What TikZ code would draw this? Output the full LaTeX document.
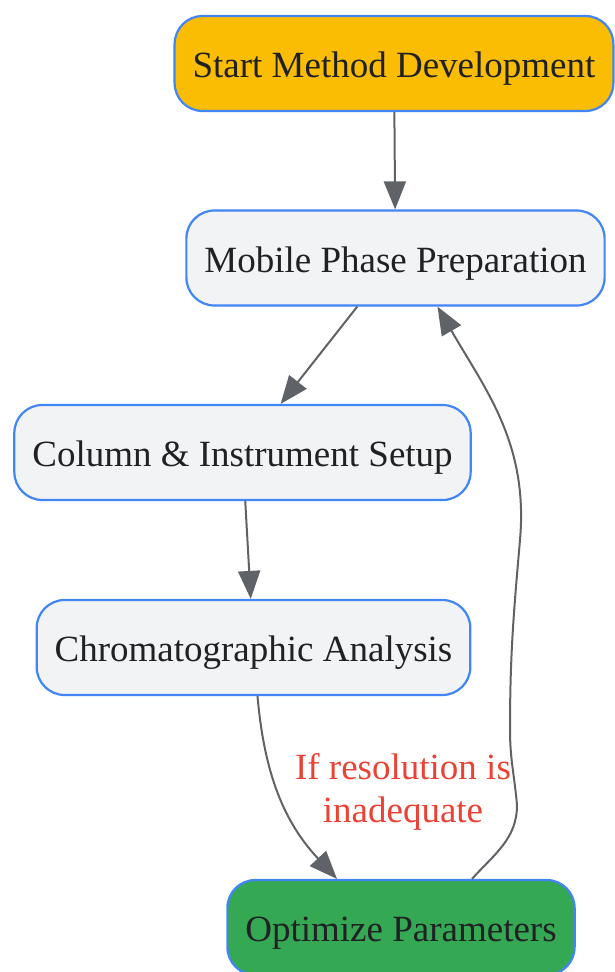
\documentclass[tikz,border=0pt]{standalone}
\usepackage{fontspec}
\setmainfont{Liberation Serif}
\usepackage{xcolor}
\usetikzlibrary{arrows.meta}

\definecolor{boxblue}{HTML}{4285F4}
\definecolor{boxgray}{HTML}{F1F3F4}
\definecolor{boxyellow}{HTML}{FBBC04}
\definecolor{boxgreen}{HTML}{34A853}
\definecolor{linegray}{HTML}{5F6368}
\definecolor{labelred}{HTML}{EA4335}
\definecolor{textdark}{HTML}{202124}

\begin{document}
\begin{tikzpicture}[x=1pt,y=-1pt]
    \tikzset{stepbox/.style={draw=boxblue,line width=2.2pt,fill=boxgray,rounded corners=28pt,
        minimum height=95pt,inner xsep=18pt,text height=28pt,text depth=0pt,text=textdark,
        font=\fontsize{37}{43}\selectfont},
        flow/.style={draw=linegray,line width=2pt,-{Triangle[length=28pt,width=22pt]}}}
    \useasboundingbox (0,0) rectangle (615,972);

    % boxes
    \node[stepbox,fill=boxyellow] (start) at (394,63.5) {Start Method Development};
    \node[stepbox] (mobile) at (395.5,258) {Mobile Phase Preparation};
    \node[stepbox] (column) at (242.5,452.5) {Column \& Instrument Setup};
    \node[stepbox] (chroma) at (253.5,647.5) {Chromatographic Analysis};
    \node[stepbox,fill=boxgreen] (optimize) at (401,927.5) {Optimize Parameters};

    % lines
    \draw[flow] (start) -- (mobile);
    \draw[flow] (mobile) -- (column);
    \draw[flow] (column) -- (chroma);
    \draw[flow] ([xshift=4pt]chroma.south) to[out=-85,in=133] ([xshift=-64pt]optimize.north);
    % back to mobile phase
    \draw[flow] ([xshift=71pt]optimize.north) to[out=48,in=-90] (517,805)
        to[out=95,in=-90] (510,730) to[out=90,in=-95] (520,540)
        to[out=85,in=-60] ([xshift=42pt]mobile.south);

    % label
    \node[text=labelred,align=center,font=\fontsize{37}{43}\selectfont] (cond) at (403,792)
        {If resolution is\\inadequate};
\end{tikzpicture}
\end{document}
